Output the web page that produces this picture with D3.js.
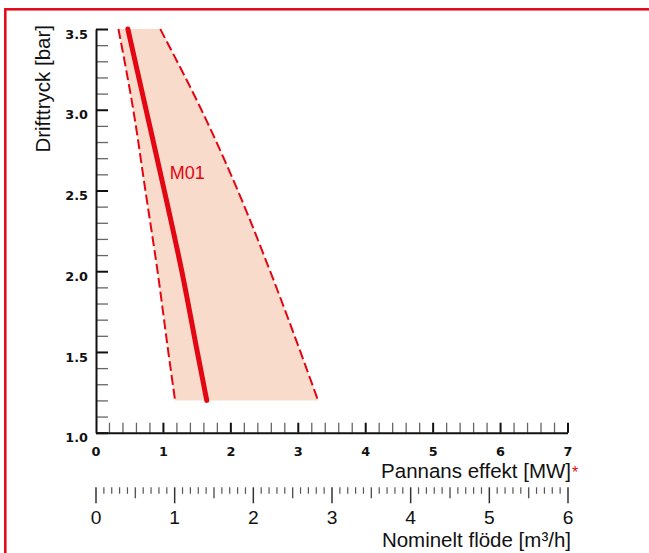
<!DOCTYPE html>
<html>
<head>
<meta charset="utf-8">
<script src="https://cdn.jsdelivr.net/npm/d3@7"></script>
<style>
  html, body { margin: 0; padding: 0; background: #fff; }
  svg { display: block; }
  .title { font-family: "Liberation Sans", Arial, Helvetica, sans-serif; font-size: 20.5px; fill: #111; }
  .bold-tick text { font-family: "DejaVu Sans", sans-serif; font-weight: bold; font-size: 12.8px; fill: #111; }
  .flow-tick text { font-family: "Liberation Sans", Arial, sans-serif; font-size: 19.2px; fill: #111; }
</style>
</head>
<body>
<div id="chart"></div>
<script>
// Data
const pressure = [3.5, 3.0, 2.5, 2.0, 1.5, 1.2];          // bar
const m01 = [0.48, 0.75, 1.02, 1.28, 1.51, 1.65];          // MW, main curve
const lowerBound = [0.34, 0.56, 0.74, 0.92, 1.08, 1.18];   // MW, left dashed
const upperBound = [0.96, 1.57, 2.11, 2.59, 3.04, 3.30];   // MW, right dashed

const powerTicks = [0, 1, 2, 3, 4, 5, 6, 7];
const pressureTicks = [1.0, 1.5, 2.0, 2.5, 3.0, 3.5];
const flowTicks = [0, 1, 2, 3, 4, 5, 6];

const red = '#e30613';
const width = 649, height = 553;

const svg = d3.select('#chart')
  .append('svg')
  .attr('width', width)
  .attr('height', height);

// red frame, open to the right and bottom
svg.append('rect')
  .attr('x', 5.3).attr('y', 9.3)
  .attr('width', 800).attr('height', 700)
  .attr('fill', 'none')
  .attr('stroke', red)
  .attr('stroke-width', 2.5);

const x = d3.scaleLinear().domain([0, 7]).range([95.5, 567.5]);
const y = d3.scaleLinear().domain([1.0, 3.5]).range([432.7, 29]);
const x2 = d3.scaleLinear().domain([0, 6]).range([95.5, 567.5]);

const rows = pressure.map((p, i) => ({ p, lo: lowerBound[i], hi: upperBound[i], m: m01[i] }));

// band
const area = d3.area()
  .y(d => y(d.p))
  .x0(d => x(d.lo))
  .x1(d => x(d.hi))
  .curve(d3.curveMonotoneY);

svg.append('path')
  .datum(rows)
  .attr('d', area)
  .attr('fill', '#f9dbcb');

const lineOf = key => d3.line()
  .y(d => y(d.p))
  .x(d => x(d[key]))
  .curve(d3.curveMonotoneY);

['lo', 'hi'].forEach(k => {
  svg.append('path')
    .datum(rows)
    .attr('d', lineOf(k))
    .attr('fill', 'none')
    .attr('stroke', red)
    .attr('stroke-width', 2)
    .attr('stroke-dasharray', '10,4');
});

svg.append('path')
  .datum(rows)
  .attr('d', lineOf('m'))
  .attr('fill', 'none')
  .attr('stroke', red)
  .attr('stroke-width', 5)
  .attr('stroke-linecap', 'round');

svg.append('text')
  .attr('x', x(1.1))
  .attr('y', y(2.57))
  .attr('fill', red)
  .style('font-family', '"Liberation Sans", Arial, sans-serif')
  .style('font-size', '18px')
  .text('M01');

// minor tick values
const yMinor = d3.range(10, 36).map(v => v / 10).filter(v => Math.round(v * 10) % 5 !== 0);
const xMinor = d3.range(0, 36).map(v => v / 5).filter(v => Math.round(v * 5) % 5 !== 0);

// y axis (ticks point right)
const yAxisG = svg.append('g').attr('transform', 'translate(96,0)');
yAxisG.append('g')
  .call(d3.axisRight(y).tickValues(yMinor).tickSize(12).tickSizeOuter(0).tickFormat(''))
  .call(g => g.select('.domain').remove())
  .call(g => g.selectAll('line').attr('stroke', '#666').attr('stroke-width', 1.3));
yAxisG.append('g')
  .call(d3.axisRight(y).tickValues(pressureTicks).tickSize(12).tickSizeOuter(0).tickFormat(''))
  .call(g => g.select('.domain').attr('stroke', '#111').attr('stroke-width', 2))
  .call(g => g.selectAll('line').attr('stroke', '#111').attr('stroke-width', 2));
yAxisG.append('g')
  .attr('class', 'bold-tick')
  .call(d3.axisLeft(y).tickValues(pressureTicks).tickSize(0).tickPadding(8).tickFormat(d3.format('.1f')))
  .call(g => g.select('.domain').remove())
  .call(g => g.selectAll('text').attr('dy', '0.72em'));

// top x axis: Pannans effekt
const xAxisG = svg.append('g').attr('transform', 'translate(0,432.7)');
xAxisG.append('g')
  .call(d3.axisTop(x).tickValues(xMinor).tickSize(10).tickSizeOuter(0).tickFormat(''))
  .call(g => g.select('.domain').remove())
  .call(g => g.selectAll('line').attr('stroke', '#666').attr('stroke-width', 1.3));
xAxisG.append('g')
  .call(d3.axisTop(x).tickValues(powerTicks.slice(1)).tickSize(10).tickSizeOuter(0).tickFormat(''))
  .call(g => g.select('.domain').attr('stroke', '#111').attr('stroke-width', 2))
  .call(g => g.selectAll('line').attr('stroke', '#111').attr('stroke-width', 2));
xAxisG.append('g')
  .attr('class', 'bold-tick')
  .call(d3.axisBottom(x).tickValues(powerTicks).tickSize(0).tickPadding(14.3).tickFormat(d3.format('d')))
  .call(g => g.select('.domain').remove());

svg.append('text')
  .attr('class', 'title')
  .attr('x', 571)
  .attr('y', 478)
  .attr('text-anchor', 'end')
  .text('Pannans effekt [MW]');
svg.append('text')
  .attr('x', 572)
  .attr('y', 478)
  .attr('fill', red)
  .style('font-family', '"Liberation Sans", Arial, sans-serif')
  .style('font-size', '16px')
  .text('*');

// second x axis: Nominelt flöde
const flowMinor = d3.range(0, 61).map(v => v / 10).filter(v => Math.round(v * 10) % 5 !== 0);
const flowHalf = d3.range(0, 12).map(v => v / 2 + 0.5).filter(v => v < 6 && v % 1 !== 0);
const flowG = svg.append('g').attr('transform', 'translate(0,487.3)');
flowG.append('g')
  .call(d3.axisBottom(x2).tickValues(flowMinor).tickSize(6.5).tickSizeOuter(0).tickFormat(''))
  .call(g => g.select('.domain').remove())
  .call(g => g.selectAll('line').attr('stroke', '#555').attr('stroke-width', 1.2));
flowG.append('g')
  .call(d3.axisBottom(x2).tickValues(flowHalf).tickSize(11).tickSizeOuter(0).tickFormat(''))
  .call(g => g.select('.domain').remove())
  .call(g => g.selectAll('line').attr('stroke', '#555').attr('stroke-width', 1.4));
flowG.append('g')
  .attr('class', 'flow-tick')
  .call(d3.axisBottom(x2).tickValues(flowTicks).tickSize(16).tickSizeOuter(0).tickPadding(7.5).tickFormat(d3.format('d')))
  .call(g => g.select('.domain').remove())
  .call(g => g.selectAll('line').attr('stroke', '#333').attr('stroke-width', 1.5));

svg.append('text')
  .attr('class', 'title')
  .attr('x', 571)
  .attr('y', 547)
  .attr('text-anchor', 'end')
  .text('Nominelt flöde [m³/h]');

// y title
svg.append('text')
  .attr('class', 'title')
  .attr('transform', 'translate(50,25) rotate(-90)')
  .attr('text-anchor', 'end')
  .text('Drifttryck [bar]');
</script>
</body>
</html>
